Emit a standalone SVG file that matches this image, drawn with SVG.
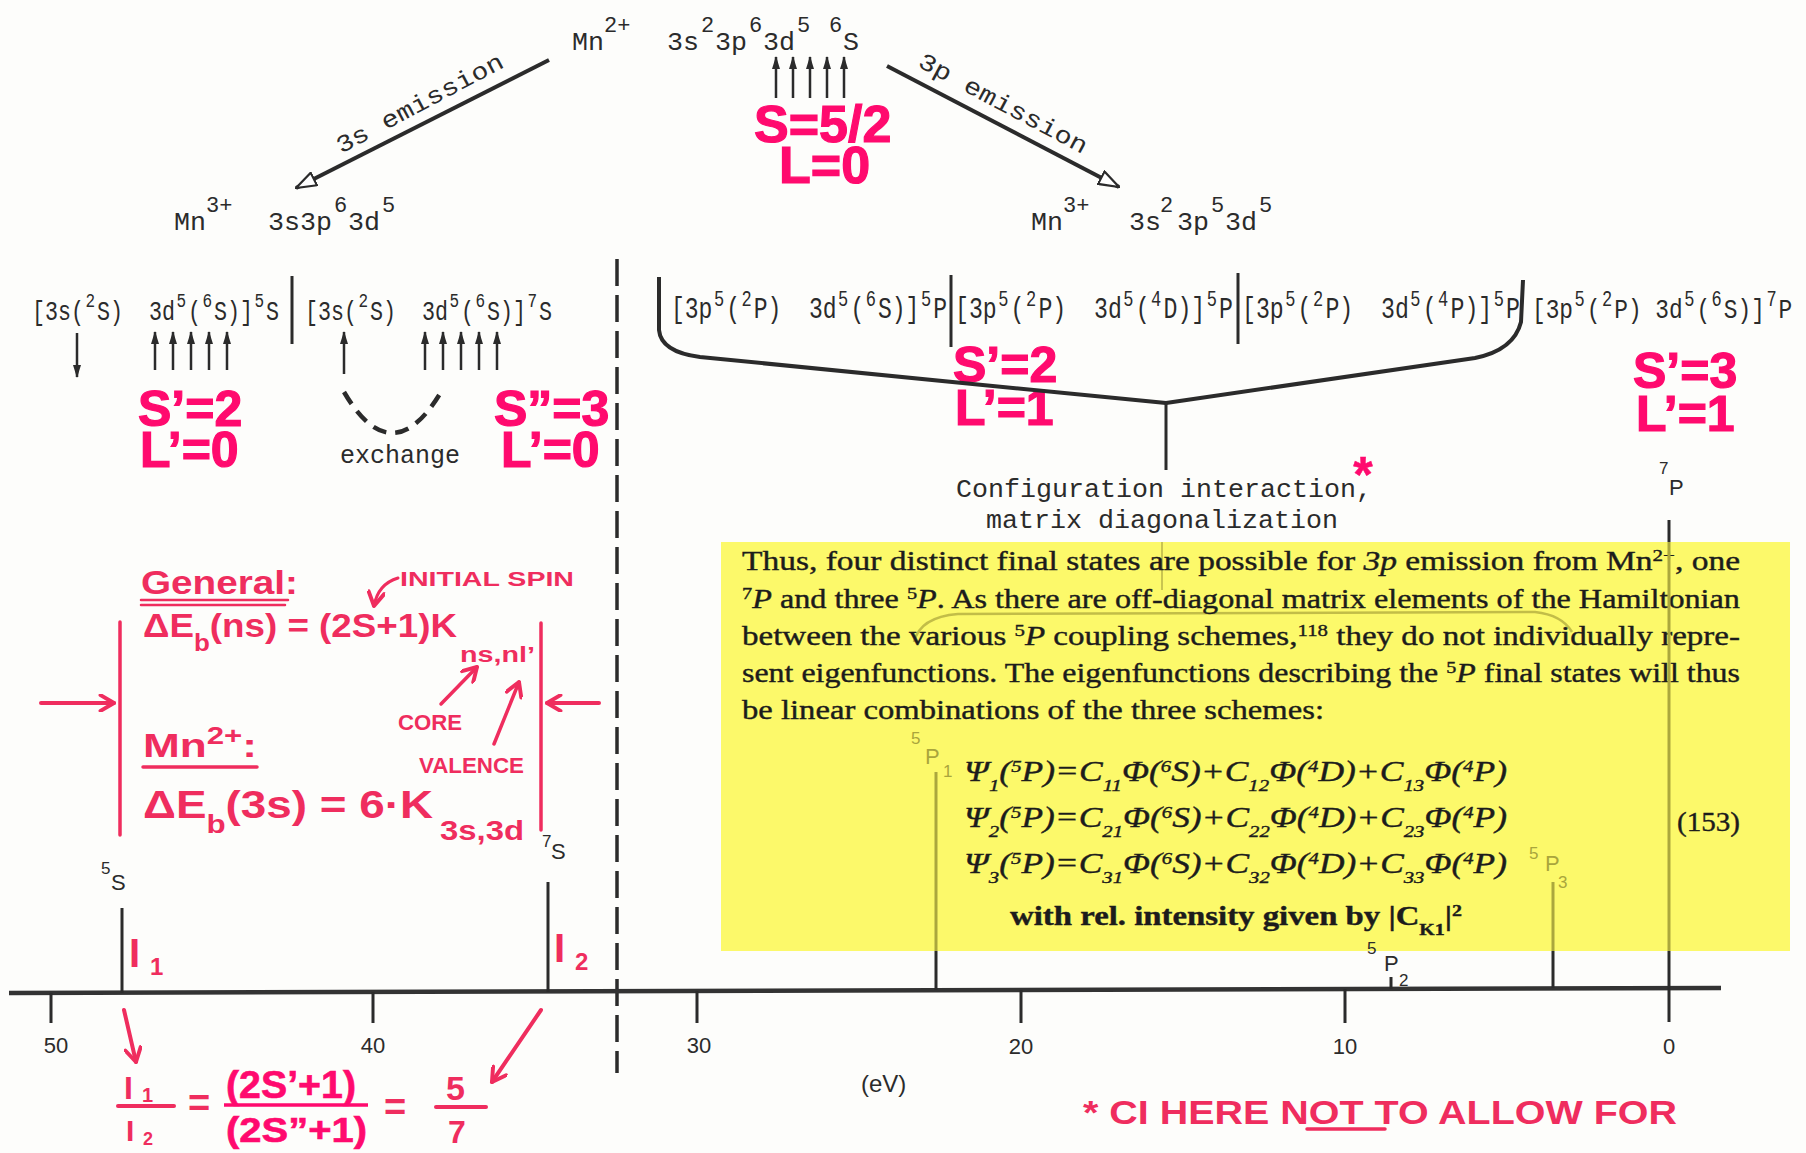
<svg xmlns="http://www.w3.org/2000/svg" width="1806" height="1153" viewBox="0 0 1806 1153">
<defs>
<style>
.tw{font-family:"Liberation Mono","Courier New",monospace;fill:#2b2b2b}
.sn{font-family:"Liberation Sans",Arial,sans-serif;fill:#2b2b2b}
.pk{font-family:"Liberation Sans",Arial,sans-serif;font-weight:bold;fill:#ff0a6e;stroke:#ff0a6e;stroke-width:1.2}
.hw{font-family:"Liberation Sans",Arial,sans-serif;font-weight:bold;fill:#ef2d5e}
.sr{font-family:"Liberation Serif","Times New Roman",serif;fill:#1c1c1c;stroke:#1c1c1c;stroke-width:0.4}
.ln{stroke:#2b2b2b;stroke-width:3;fill:none}
.ax{stroke:#333;stroke-width:4.5;fill:none}
.ol{stroke:#aba73d;stroke-width:3;fill:none}
.rd{stroke:#ef2d5e;stroke-width:4;fill:none;stroke-linecap:round}
.sp{baseline-shift:super;font-size:17px}
.sb{baseline-shift:sub;font-size:17px}
.spin{stroke:#2b2b2b;stroke-width:2.5;fill:none}
</style>
<marker id="open" viewBox="0 0 22 16" refX="21" refY="8" markerWidth="22" markerHeight="16" markerUnits="userSpaceOnUse" orient="auto">
<path d="M1,1 L21,8 L1,15 Z" fill="#fff" stroke="#2b2b2b" stroke-width="2.2"/>
</marker>
<marker id="spinhead" viewBox="0 0 13 8" refX="12" refY="4" markerWidth="13" markerHeight="8" markerUnits="userSpaceOnUse" orient="auto">
<path d="M0,0 L13,4 L0,8 Z" fill="#2b2b2b"/>
</marker>
<marker id="rarr" viewBox="0 0 16 16" refX="14" refY="8" markerWidth="18" markerHeight="18" markerUnits="userSpaceOnUse" orient="auto">
<path d="M2,1 L14,8 L2,15" fill="none" stroke="#ef2d5e" stroke-width="3.5" stroke-linecap="round" stroke-linejoin="round"/>
</marker>
</defs>
<rect x="0" y="0" width="1806" height="1153" fill="#fdfdfb"/>

<!-- yellow highlighted text block -->
<g id="textblock">
<rect x="721" y="542" width="1069" height="409" fill="#fcf96a"/>
<path class="ol" style="stroke-width:2;stroke:#c9c450" d="M1162,542 L1162,590"/>
<path class="ol" style="stroke-width:2.5;stroke:#c2bd48" d="M914,642 Q920,617 958,614 L1535,612 Q1562,615 1572,632"/>
<text class="sr" x="742" y="570" font-size="27" textLength="998" lengthAdjust="spacingAndGlyphs">Thus, four distinct final states are possible for <tspan font-style="italic">3p</tspan> emission from Mn<tspan class="sp">2+</tspan>, one</text>
<text class="sr" x="742" y="608" font-size="27" textLength="998" lengthAdjust="spacingAndGlyphs"><tspan class="sp">7</tspan><tspan font-style="italic">P</tspan> and three <tspan class="sp">5</tspan><tspan font-style="italic">P</tspan>. As there are off-diagonal matrix elements of the Hamiltonian</text>
<text class="sr" x="742" y="645" font-size="27" textLength="998" lengthAdjust="spacingAndGlyphs">between the various <tspan class="sp">5</tspan><tspan font-style="italic">P</tspan> coupling schemes,<tspan class="sp">118</tspan> they do not individually repre-</text>
<text class="sr" x="742" y="682" font-size="27" textLength="998" lengthAdjust="spacingAndGlyphs">sent eigenfunctions. The eigenfunctions describing the <tspan class="sp">5</tspan><tspan font-style="italic">P</tspan> final states will thus</text>
<text class="sr" x="742" y="719" font-size="27" textLength="582" lengthAdjust="spacingAndGlyphs">be linear combinations of the three schemes:</text>
<text class="sr" x="964" y="781" font-size="29" font-style="italic" textLength="543" lengthAdjust="spacingAndGlyphs">Ψ<tspan class="sb">1</tspan>(<tspan class="sp">5</tspan>P)=C<tspan class="sb">11</tspan>Φ(<tspan class="sp">6</tspan>S)+C<tspan class="sb">12</tspan>Φ(<tspan class="sp">4</tspan>D)+C<tspan class="sb">13</tspan>Φ(<tspan class="sp">4</tspan>P)</text>
<text class="sr" x="964" y="827" font-size="29" font-style="italic" textLength="543" lengthAdjust="spacingAndGlyphs">Ψ<tspan class="sb">2</tspan>(<tspan class="sp">5</tspan>P)=C<tspan class="sb">21</tspan>Φ(<tspan class="sp">6</tspan>S)+C<tspan class="sb">22</tspan>Φ(<tspan class="sp">4</tspan>D)+C<tspan class="sb">23</tspan>Φ(<tspan class="sp">4</tspan>P)</text>
<text class="sr" x="964" y="873" font-size="29" font-style="italic" textLength="543" lengthAdjust="spacingAndGlyphs">Ψ<tspan class="sb">3</tspan>(<tspan class="sp">5</tspan>P)=C<tspan class="sb">31</tspan>Φ(<tspan class="sp">6</tspan>S)+C<tspan class="sb">32</tspan>Φ(<tspan class="sp">4</tspan>D)+C<tspan class="sb">33</tspan>Φ(<tspan class="sp">4</tspan>P)</text>
<text class="sr" x="1677" y="831" font-size="28" textLength="63" lengthAdjust="spacingAndGlyphs">(153)</text>
<text class="sr" x="1010" y="925" font-size="28" font-weight="bold" textLength="452" lengthAdjust="spacingAndGlyphs">with rel. intensity given by |C<tspan class="sb">K1</tspan>|<tspan class="sp">2</tspan></text>
</g>

<!-- top initial state -->
<g id="mn2plus">
<text class="tw" font-size="26.67"><tspan x="572" y="50">Mn</tspan><tspan x="604" y="32" font-size="22">2+</tspan><tspan x="667" y="50">3s</tspan><tspan x="701" y="32" font-size="22">2</tspan><tspan x="715" y="50">3p</tspan><tspan x="749" y="32" font-size="22">6</tspan><tspan x="763" y="50">3d</tspan><tspan x="797" y="32" font-size="22">5</tspan><tspan x="829" y="32" font-size="22">6</tspan><tspan x="843" y="50">S</tspan></text>
<g marker-end="url(#spinhead)">
<path class="spin" d="M776,98 L776,57"/><path class="spin" d="M793,98 L793,57"/><path class="spin" d="M810,98 L810,57"/><path class="spin" d="M827,98 L827,57"/><path class="spin" d="M844,98 L844,57"/>
</g>
<text class="pk" font-size="52"><tspan x="754" y="142">S=5/2</tspan><tspan x="779" y="183">L=0</tspan></text>
</g>

<g id="mn3plus-3s">
<text class="tw" font-size="26.67"><tspan x="174" y="230">Mn</tspan><tspan x="206" y="212" font-size="22">3+</tspan><tspan x="268" y="230">3s3p</tspan><tspan x="334" y="212" font-size="22">6</tspan><tspan x="348" y="230">3d</tspan><tspan x="382" y="212" font-size="22">5</tspan></text>
</g>

<g id="mn3plus-3p">
<text class="tw" font-size="26.67"><tspan x="1031" y="230">Mn</tspan><tspan x="1063" y="212" font-size="22">3+</tspan><tspan x="1129" y="230">3s</tspan><tspan x="1160" y="212" font-size="22">2</tspan><tspan x="1177" y="230">3p</tspan><tspan x="1211" y="212" font-size="22">5</tspan><tspan x="1225" y="230">3d</tspan><tspan x="1259" y="212" font-size="22">5</tspan></text>
</g>

<!-- 3s final states -->
<g id="state-5S">
<g transform="translate(0,320) scale(1,1.3)">
<text class="tw" font-size="21.67" xml:space="preserve"><tspan x="32" y="0">[3s(</tspan><tspan x="85.5" y="-10" font-size="16">2</tspan><tspan x="97" y="0">S)  3d</tspan><tspan x="176.5" y="-10" font-size="16">5</tspan><tspan x="188" y="0">(</tspan><tspan x="202.5" y="-10" font-size="16">6</tspan><tspan x="214" y="0">S)]</tspan><tspan x="254.5" y="-10" font-size="16">5</tspan><tspan x="266" y="0">S</tspan></text>
</g>
<path class="spin" d="M77,333 L77,377" marker-end="url(#spinhead)"/>
<g marker-end="url(#spinhead)">
<path class="spin" d="M155,370 L155,332"/><path class="spin" d="M173,370 L173,332"/><path class="spin" d="M191,370 L191,332"/><path class="spin" d="M209,370 L209,332"/><path class="spin" d="M227,370 L227,332"/>
</g>
<text class="pk" font-size="50"><tspan x="138" y="426">S’=2</tspan><tspan x="140" y="467">L’=0</tspan></text>
</g>

<g id="state-7S">
<g transform="translate(0,320) scale(1,1.3)">
<text class="tw" font-size="21.67" xml:space="preserve"><tspan x="305" y="0">[3s(</tspan><tspan x="358.5" y="-10" font-size="16">2</tspan><tspan x="370" y="0">S)  3d</tspan><tspan x="449.5" y="-10" font-size="16">5</tspan><tspan x="461" y="0">(</tspan><tspan x="475.5" y="-10" font-size="16">6</tspan><tspan x="487" y="0">S)]</tspan><tspan x="527.5" y="-10" font-size="16">7</tspan><tspan x="539" y="0">S</tspan></text>
</g>
<g marker-end="url(#spinhead)">
<path class="spin" d="M344,374 L344,332"/>
<path class="spin" d="M425,370 L425,332"/><path class="spin" d="M443,370 L443,332"/><path class="spin" d="M461,370 L461,332"/><path class="spin" d="M479,370 L479,332"/><path class="spin" d="M497,370 L497,332"/>
</g>
<path d="M344,392 Q392,474 441,392" fill="none" stroke="#2b2b2b" stroke-width="4.5" stroke-dasharray="14 9"/>
<text class="tw" x="340" y="463" font-size="25">exchange</text>
<text class="pk" font-size="50"><tspan x="494" y="426">S”=3</tspan><tspan x="501" y="467">L’=0</tspan></text>
</g>

<!-- 3p final states -->
<g id="state-5P-6S">
<g transform="translate(0,318) scale(1,1.25)">
<text class="tw" font-size="23" xml:space="preserve"><tspan x="671" y="0">[3p</tspan><tspan x="713.9" y="-10" font-size="17">5</tspan><tspan x="726.2" y="0">(</tspan><tspan x="741.5" y="-10" font-size="17">2</tspan><tspan x="753.8" y="0">P)  3d</tspan><tspan x="838.1" y="-10" font-size="17">5</tspan><tspan x="850.4" y="0">(</tspan><tspan x="865.7" y="-10" font-size="17">6</tspan><tspan x="878" y="0">S)]</tspan><tspan x="920.9" y="-10" font-size="17">5</tspan><tspan x="933.2" y="0">P</tspan></text>
</g>
</g>
<g id="state-5P-4D">
<g transform="translate(0,318) scale(1,1.25)">
<text class="tw" font-size="23.17" xml:space="preserve"><tspan x="955" y="0">[3p</tspan><tspan x="998.2" y="-10" font-size="17">5</tspan><tspan x="1010.6" y="0">(</tspan><tspan x="1026" y="-10" font-size="17">2</tspan><tspan x="1038.4" y="0">P)  3d</tspan><tspan x="1123.3" y="-10" font-size="17">5</tspan><tspan x="1135.7" y="0">(</tspan><tspan x="1151.1" y="-10" font-size="17">4</tspan><tspan x="1163.5" y="0">D)]</tspan><tspan x="1206.7" y="-10" font-size="17">5</tspan><tspan x="1219.1" y="0">P</tspan></text>
</g>
</g>
<g id="state-5P-4P">
<g transform="translate(0,318) scale(1,1.25)">
<text class="tw" font-size="23.17" xml:space="preserve"><tspan x="1242" y="0">[3p</tspan><tspan x="1285.2" y="-10" font-size="17">5</tspan><tspan x="1297.6" y="0">(</tspan><tspan x="1313" y="-10" font-size="17">2</tspan><tspan x="1325.4" y="0">P)  3d</tspan><tspan x="1410.3" y="-10" font-size="17">5</tspan><tspan x="1422.7" y="0">(</tspan><tspan x="1438.1" y="-10" font-size="17">4</tspan><tspan x="1450.5" y="0">P)]</tspan><tspan x="1493.7" y="-10" font-size="17">5</tspan><tspan x="1506.1" y="0">P</tspan></text>
</g>
<text class="pk" font-size="50"><tspan x="953" y="382">S’=2</tspan><tspan x="955" y="425">L’=1</tspan></text>
</g>
<g id="state-7P">
<g transform="translate(0,318) scale(1,1.25)">
<text class="tw" font-size="22.83" xml:space="preserve"><tspan x="1532" y="0">[3p</tspan><tspan x="1574.6" y="-10" font-size="17">5</tspan><tspan x="1586.8" y="0">(</tspan><tspan x="1602" y="-10" font-size="17">2</tspan><tspan x="1614.2" y="0">P) 3d</tspan><tspan x="1684.2" y="-10" font-size="17">5</tspan><tspan x="1696.4" y="0">(</tspan><tspan x="1711.6" y="-10" font-size="17">6</tspan><tspan x="1723.8" y="0">S)]</tspan><tspan x="1766.4" y="-10" font-size="17">7</tspan><tspan x="1778.6" y="0">P</tspan></text>
</g>
<text class="pk" font-size="50"><tspan x="1633" y="388">S’=3</tspan><tspan x="1636" y="431">L’=1</tspan></text>
</g>

<g id="ci-label">
<text class="tw" font-size="26.67"><tspan x="956" y="497">Configuration interaction,</tspan><tspan x="986" y="528">matrix diagonalization</tspan></text>
<text class="pk" x="1363" y="492" font-size="50" text-anchor="middle" style="stroke-width:0.5">*</text>
</g>

<!-- connectors -->
<g id="connectors">
<path class="ln" style="stroke-width:4" d="M549,60 L296,188" marker-end="url(#open)"/>
<path class="ln" style="stroke-width:4" d="M887,66 L1119,187" marker-end="url(#open)"/>
<text class="tw" font-size="24" transform="translate(420,104) rotate(-28)" x="0" y="7" text-anchor="middle" textLength="186" lengthAdjust="spacingAndGlyphs">3s emission</text>
<text class="tw" font-size="24" transform="translate(1003,104) rotate(28)" x="0" y="7" text-anchor="middle" textLength="188" lengthAdjust="spacingAndGlyphs">3p emission</text>
<path class="ln" d="M292,276 L292,344"/>
<path class="ln" d="M951,275 L951,347"/>
<path class="ln" d="M1238,273 L1238,344"/>
<path class="ln" style="stroke-width:4" d="M659,277 L659,330 Q661,352 700,357 L1166,403"/>
<path class="ln" style="stroke-width:4" d="M1523,280 L1521,322 Q1514,350 1475,358 L1166,403"/>
<path class="ln" d="M1166,403 L1166,470"/>
<path class="ln" style="stroke-width:3.5" d="M617,259 L617,1073" stroke-dasharray="27 9"/>
</g>

<!-- spectrum axis -->
<g id="axis">
<path class="ax" d="M9,993 L1721,988"/>
<path class="ln" d="M51,993 L51,1023 M373,992 L373,1023 M697,991 L697,1023 M1021,990 L1021,1023 M1345,989 L1345,1023 M1669,988 L1669,1022"/>
<g class="sn" font-size="22" text-anchor="middle">
<text x="56" y="1053">50</text><text x="373" y="1053">40</text><text x="699" y="1053">30</text><text x="1021" y="1054">20</text><text x="1345" y="1054">10</text><text x="1669" y="1054">0</text>
</g>
<text class="sn" x="861" y="1092" font-size="24">(eV)</text>
</g>

<g id="peak-5S">
<path class="ln" d="M122,908 L122,993"/>
<text class="sn" font-size="22"><tspan x="101" y="874" font-size="17">5</tspan><tspan x="111" y="890">S</tspan></text>
</g>
<g id="peak-7S">
<path class="ln" d="M548,882 L548,992"/>
<text class="sn" font-size="22"><tspan x="542" y="847" font-size="17">7</tspan><tspan x="551" y="859">S</tspan></text>
</g>
<g id="peak-5P1">
<path class="ol" d="M936,772 L936,951"/><path class="ln" d="M936,951 L936,990"/>
<text class="sn" font-size="22" style="fill:#a9a53c"><tspan x="911" y="744" font-size="17">5</tspan><tspan x="925" y="764">P</tspan><tspan x="943" y="777" font-size="17">1</tspan></text>
</g>
<g id="peak-5P3">
<path class="ol" d="M1553,882 L1553,951"/><path class="ln" d="M1553,951 L1553,988"/>
<text class="sn" font-size="22" style="fill:#a9a53c"><tspan x="1529" y="859" font-size="17">5</tspan><tspan x="1545" y="871">P</tspan><tspan x="1558" y="888" font-size="17">3</tspan></text>
</g>
<g id="peak-5P2">
<path class="ln" d="M1391,977 L1391,989"/>
<text class="sn" font-size="22"><tspan x="1367" y="954" font-size="17">5</tspan><tspan x="1384" y="971">P</tspan><tspan x="1399" y="986" font-size="17">2</tspan></text>
</g>
<g id="peak-7P">
<path class="ln" d="M1669,520 L1669,542"/><path class="ol" d="M1669,542 L1669,951"/><path class="ln" d="M1669,951 L1669,988"/>
<text class="sn" font-size="22"><tspan x="1659" y="474" font-size="17">7</tspan><tspan x="1669" y="495">P</tspan></text>
</g>

<!-- handwritten annotations -->
<g id="note-general">
<text class="hw" x="141" y="594" font-size="34" textLength="157" lengthAdjust="spacingAndGlyphs">General:</text>
<path class="rd" style="stroke-width:2.5" d="M141,600 L288,600 M141,605 L285,605"/>
<text class="hw" x="400" y="586" font-size="20" textLength="174" lengthAdjust="spacingAndGlyphs">INITIAL SPIN</text>
<path class="rd" style="stroke-width:3" d="M398,578 Q378,584 374,606" marker-end="url(#rarr)"/>
<text class="hw" x="143" y="637" font-size="34" textLength="314" lengthAdjust="spacingAndGlyphs">ΔE<tspan font-size="24" baseline-shift="sub">b</tspan>(ns) = (2S+1)K</text>
<text class="hw" x="460" y="662" font-size="22" textLength="75" lengthAdjust="spacingAndGlyphs">ns,nl’</text>
<text class="hw" x="398" y="730" font-size="22" textLength="64" lengthAdjust="spacingAndGlyphs">CORE</text>
<path class="rd" style="stroke-width:3.5" d="M441,704 L477,667" marker-end="url(#rarr)"/>
<text class="hw" x="419" y="773" font-size="22" textLength="105" lengthAdjust="spacingAndGlyphs">VALENCE</text>
<path class="rd" style="stroke-width:3.5" d="M494,744 L519,682" marker-end="url(#rarr)"/>
<text class="hw" x="143" y="757" font-size="34" textLength="114" lengthAdjust="spacingAndGlyphs">Mn<tspan font-size="24" baseline-shift="super">2+</tspan>:</text>
<path class="rd" style="stroke-width:3.5" d="M143,767 L257,767"/>
<text class="hw" x="143" y="818" font-size="38" textLength="290" lengthAdjust="spacingAndGlyphs">ΔE<tspan font-size="26" baseline-shift="sub">b</tspan>(3s) = 6·K</text>
<text class="hw" x="440" y="840" font-size="28" textLength="84" lengthAdjust="spacingAndGlyphs">3s,3d</text>
<path class="rd" style="stroke-width:3.5" d="M120,622 L120,835 M541,623 L541,830"/>
<path class="rd" d="M41,703 L114,703" marker-end="url(#rarr)"/>
<path class="rd" d="M599,703 L547,703" marker-end="url(#rarr)"/>
</g>

<g id="note-ratio">
<text class="hw" font-size="40"><tspan x="129" y="967">I</tspan><tspan x="150" y="975" font-size="24">1</tspan></text>
<text class="hw" font-size="40"><tspan x="554" y="962">I</tspan><tspan x="575" y="970" font-size="24">2</tspan></text>
<path class="rd" d="M124,1010 L136,1062" marker-end="url(#rarr)"/>
<path class="rd" d="M541,1010 L492,1082" marker-end="url(#rarr)"/>
<text class="hw" font-size="32"><tspan x="124" y="1099">I</tspan><tspan x="142" y="1102" font-size="20">1</tspan></text>
<path class="rd" d="M118,1106 L174,1106"/>
<text class="hw" font-size="30"><tspan x="126" y="1141">I</tspan><tspan x="143" y="1145" font-size="18">2</tspan></text>
<text class="hw" x="188" y="1116" font-size="38">=</text>
<text class="pk" x="226" y="1098" font-size="38" textLength="130" lengthAdjust="spacingAndGlyphs" style="stroke-width:0.6">(2S’+1)</text>
<path class="rd" style="stroke:#ff0a6e;stroke-width:3.5;stroke-linecap:butt" d="M224,1105 L368,1105"/>
<text class="pk" x="226" y="1142" font-size="35" textLength="141" lengthAdjust="spacingAndGlyphs" style="stroke-width:0.6">(2S”+1)</text>
<text class="hw" x="384" y="1120" font-size="38">=</text>
<text class="hw" x="446" y="1100" font-size="34">5</text>
<path class="rd" d="M436,1107 L486,1107"/>
<text class="hw" x="448" y="1143" font-size="32">7</text>
</g>

<g id="note-ci">
<text class="hw" x="1083" y="1124" font-size="34" textLength="594" lengthAdjust="spacingAndGlyphs">* CI HERE NOT TO ALLOW FOR</text>
<path class="rd" style="stroke-width:3.5" d="M1307,1129 L1385,1129"/>
</g>
</svg>
